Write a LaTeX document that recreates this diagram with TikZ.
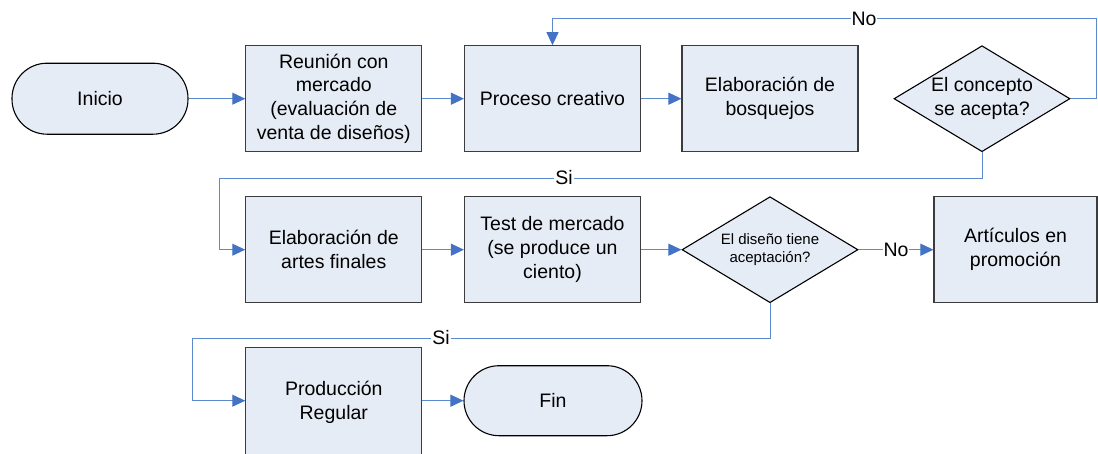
\documentclass[tikz,border=0pt]{standalone}
\usepackage{fontspec}
\setmainfont{Liberation Sans}
\usetikzlibrary{shapes.geometric,arrows.meta}
\definecolor{boxfill}{RGB}{230,236,246}
\definecolor{boxline}{RGB}{60,60,60}
\definecolor{connblue}{RGB}{92,138,206}
\definecolor{tipblue}{RGB}{68,114,196}
\begin{document}
\begin{tikzpicture}[x=1pt,y=-1pt,
  base/.style={fill=boxfill,draw=boxline,line width=1.1pt,align=center,inner sep=0pt,font=\fontsize{19.5}{23.8}\selectfont},
  procbox/.style={base,rectangle,minimum width=176pt,minimum height=106pt},
  term/.style={base,rectangle,rounded corners=35pt,minimum width=176pt,minimum height=71pt,draw=black},
  decision/.style={base,diamond,minimum width=176pt,minimum height=106pt,draw=black},
  flow/.style={draw=connblue,line width=1pt,-{Triangle[length=13pt,width=12pt,color=tipblue,fill=tipblue]}},
  lbl/.style={fill=white,inner sep=1pt,font=\fontsize{19.5}{23.8}\selectfont}
]
\useasboundingbox (0,0) rectangle (1098,453);
% row 1
\node[term] (inicio) at (100,98.7) {Inicio};
\node[procbox] (reunion) at (333.8,98.7) {Reunión con\\mercado\\(evaluación de\\venta de diseños)};
\node[procbox] (proceso) at (552.5,98.7) {Proceso creativo};
\node[procbox] (bosquejos) at (770,98.7) {Elaboración de\\bosquejos};
\node[decision,label={[align=center,font=\fontsize{19.5}{23.8}\selectfont]center:El concepto\\se acepta?}] (d1) at (982,98.7) {};
% row 2
\node[procbox] (artes) at (333.8,249.7) {Elaboración de\\artes finales};
\node[procbox] (test) at (552.5,249.7) {Test de mercado\\(se produce un\\ciento)};
\node[decision,label={[align=center,font=\fontsize{15}{18.5}\selectfont]center:El diseño tiene\\aceptación?}] (d2) at (770,249.7) {};
\node[procbox,minimum width=163pt] (art) at (1015.5,249.7) {Artículos en\\promoción};
% row 3
\node[procbox,minimum height=110pt] (prod) at (333.8,402.7) {Producción\\Regular};
\node[term,minimum width=178pt,minimum height=70pt] (fin) at (553,400.7) {Fin};
% connectors
\coordinate (noturn) at (1096,18.5);
\coordinate (si1turn) at (219,178);
\coordinate (si2turn) at (192.7,338);
\draw[flow] (inicio.east) -- (reunion.west);
\draw[flow] (reunion.east) -- (proceso.west);
\draw[flow] (proceso.east) -- (bosquejos.west);
\draw[flow] (d1.east) -| (noturn) -| (proceso.north);
\draw[flow] (d1.south) |- (si1turn) |- (artes.west);
\draw[flow] (artes.east) -- (test.west);
\draw[flow] (test.east) -- (d2.west);
\draw[flow] (d2.east) -- (art.west);
\draw[flow] (d2.south) |- (si2turn) |- (prod.west |- fin.west);
\draw[flow] (prod.east |- fin.east) -- (fin.west);
% labels
\node[lbl] (lno1) at (864,18.5) {No};
\node[lbl] (lsi1) at (564,178) {Si};
\node[lbl] (lno2) at (896,249.7) {No};
\node[lbl] (lsi2) at (441,338) {Si};
\end{tikzpicture}
\end{document}
